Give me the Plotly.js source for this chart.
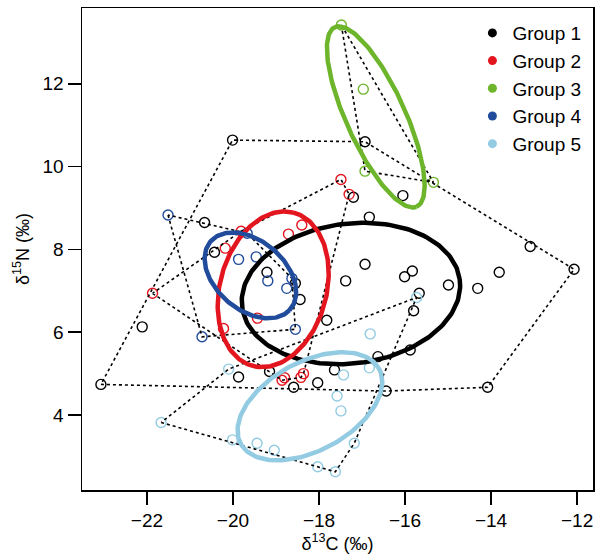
<!DOCTYPE html>
<html>
<head>
<meta charset="utf-8">
<script src="https://cdn.plot.ly/plotly-3.0.1.min.js"></script>
<style>html,body{margin:0;padding:0;background:#fff;}#chart{width:600px;height:557px;}</style>
</head>
<body>
<div id="chart"></div>
<script>
// ---- data ----
const groupNames = ["Group 1", "Group 2", "Group 3", "Group 4", "Group 5"];
const groupColors = ["#000000", "#E3151E", "#6DB52B", "#214C9C", "#92CBE2"];

const g1x = [-20.01,-20.66,-20.43,-19.21,-18.55,-18.44,-17.38,-17.82,-22.11,-23.07,-19.87,-19.15,-17.64,-18.59,-18.03,-15.67,-15.80,-15.88,-16.63,-16.44,-14.08,-16.93,-17.20,-16.05,-16.83,-13.09,-12.07,-13.81,-16.93,-16.01,-15.83,-14.99,-14.31];
const g1y = [10.64,8.65,7.93,7.45,7.18,6.79,7.24,6.29,6.13,4.74,4.92,5.05,5.09,4.67,4.78,6.94,6.52,5.57,5.41,4.58,4.67,10.60,9.26,9.30,8.78,8.07,7.52,7.45,7.64,7.34,7.48,7.14,7.06];

const g2x = [-19.81,-20.18,-18.71,-18.40,-21.87,-19.43,-20.22,-18.80,-18.86,-18.36,-18.42,-17.49,-17.30];
const g2y = [8.44,8.03,8.37,8.59,6.94,6.34,6.09,4.90,4.84,5.00,4.91,9.69,9.33];

const g3x = [-17.48,-16.97,-16.93,-15.34];
const g3y = [13.42,11.87,9.89,9.62];

const g4x = [-21.51,-19.67,-19.87,-19.46,-19.19,-18.63,-18.75,-18.55,-20.72];
const g4y = [8.83,8.39,7.76,7.82,7.24,7.30,7.06,6.07,5.89];

const g5x = [-20.10,-21.67,-20.01,-19.44,-19.04,-18.03,-17.62,-17.18,-17.49,-17.58,-17.43,-16.83,-16.81,-15.73];
const g5y = [5.11,3.82,3.40,3.32,3.15,2.75,2.63,3.32,4.10,4.46,4.97,5.14,5.96,6.84];

const xTicks = [-22,-20,-18,-16,-14,-12];
const yTicks = [4,6,8,10,12];

// ---- helpers ----
function hull(xs, ys){
  const p = xs.map((x,i)=>[x,ys[i]]).sort((a,b)=>a[0]-b[0]||a[1]-b[1]);
  const cross=(o,a,b)=>(a[0]-o[0])*(b[1]-o[1])-(a[1]-o[1])*(b[0]-o[0]);
  const lo=[],up=[];
  for(const q of p){while(lo.length>=2&&cross(lo[lo.length-2],lo[lo.length-1],q)<=0)lo.pop();lo.push(q);}
  for(let i=p.length-1;i>=0;i--){const q=p[i];while(up.length>=2&&cross(up[up.length-2],up[up.length-1],q)<=0)up.pop();up.push(q);}
  up.pop();lo.pop();
  const h=lo.concat(up); h.push(h[0]);
  return {x:h.map(q=>q[0]), y:h.map(q=>q[1])};
}
// standard ellipse, small-sample corrected (SEAc)
function ellipse(xs, ys){
  const n=xs.length;
  const mx=xs.reduce((a,b)=>a+b,0)/n, my=ys.reduce((a,b)=>a+b,0)/n;
  let sxx=0,syy=0,sxy=0;
  for(let i=0;i<n;i++){const dx=xs[i]-mx,dy=ys[i]-my;sxx+=dx*dx;syy+=dy*dy;sxy+=dx*dy;}
  const f=(n-1)/(n-2);
  sxx=sxx/(n-1)*f; syy=syy/(n-1)*f; sxy=sxy/(n-1)*f;
  const tr=sxx+syy, det=sxx*syy-sxy*sxy;
  const l1=tr/2+Math.sqrt(tr*tr/4-det), l2=tr/2-Math.sqrt(tr*tr/4-det);
  const th=0.5*Math.atan2(2*sxy, sxx-syy);
  const ex=[],ey=[];
  for(let k=0;k<=200;k++){
    const t=2*Math.PI*k/200;
    const a=Math.sqrt(l1)*Math.cos(t), b=Math.sqrt(l2)*Math.sin(t);
    ex.push(mx+a*Math.cos(th)-b*Math.sin(th));
    ey.push(my+a*Math.sin(th)+b*Math.cos(th));
  }
  return {x:ex,y:ey};
}

const gx=[g1x,g2x,g3x,g4x,g5x], gy=[g1y,g2y,g3y,g4y,g5y];
const traces=[];
// points
for(let g=0;g<5;g++){
  traces.push({x:gx[g],y:gy[g],type:'scatter',mode:'markers',showlegend:false,hoverinfo:'skip',
    marker:{symbol:'circle-open',size:10,color:groupColors[g],line:{width:1.4,color:groupColors[g]}}});
}
// convex hulls
for(let g=0;g<5;g++){
  const h=hull(gx[g],gy[g]);
  traces.push({x:h.x,y:h.y,type:'scatter',mode:'lines',showlegend:false,hoverinfo:'skip',
    line:{color:'#000',width:1.6,dash:'dot'}});
}
// ellipses
for(let g=0;g<5;g++){
  const e=ellipse(gx[g],gy[g]);
  traces.push({x:e.x,y:e.y,type:'scatter',mode:'lines',showlegend:false,hoverinfo:'skip',
    line:{color:groupColors[g],width:4.5}});
}
// legend entries
for(let g=0;g<5;g++){
  traces.push({x:[null],y:[null],type:'scatter',mode:'markers',name:groupNames[g],legendgroup:'g'+g,
    marker:{symbol:'circle',size:9,color:groupColors[g]}});
}

const FONT='Liberation Sans, Arial, sans-serif';
const axisCommon={showgrid:false,zeroline:false,ticks:'outside',ticklen:13,tickwidth:1.5,tickcolor:'#000',
  showline:true,mirror:true,linecolor:'#000',linewidth:1.5,
  tickfont:{family:FONT,size:19,color:'#000'}};

const layout={
  width:600,height:557,
  margin:{l:82,r:7,t:8,b:67},
  paper_bgcolor:'#fff',plot_bgcolor:'#fff',
  font:{family:FONT,size:19,color:'#000'},
  xaxis:Object.assign({},axisCommon,{range:[-23.51,-11.63],tickvals:xTicks,ticktext:xTicks.map(v=>'\u2212'+Math.abs(v)),
    title:{text:'δ<sup>13</sup>C (‰)',font:{family:FONT,size:18},standoff:6}}),
  yaxis:Object.assign({},axisCommon,{range:[2.19,13.83],tickvals:yTicks,ticktext:yTicks.map(String),
    title:{text:'δ<sup>15</sup>N (‰)',font:{family:FONT,size:18},standoff:8}}),
  showlegend:true,
  legend:{x:0.764,y:0.9875,xanchor:'left',yanchor:'top',bgcolor:'rgba(0,0,0,0)',borderwidth:0,
    font:{family:FONT,size:19},tracegroupgap:0,itemwidth:30}
};

Plotly.newPlot('chart',traces,layout,{displayModeBar:false,staticPlot:true});
</script>
</body>
</html>
